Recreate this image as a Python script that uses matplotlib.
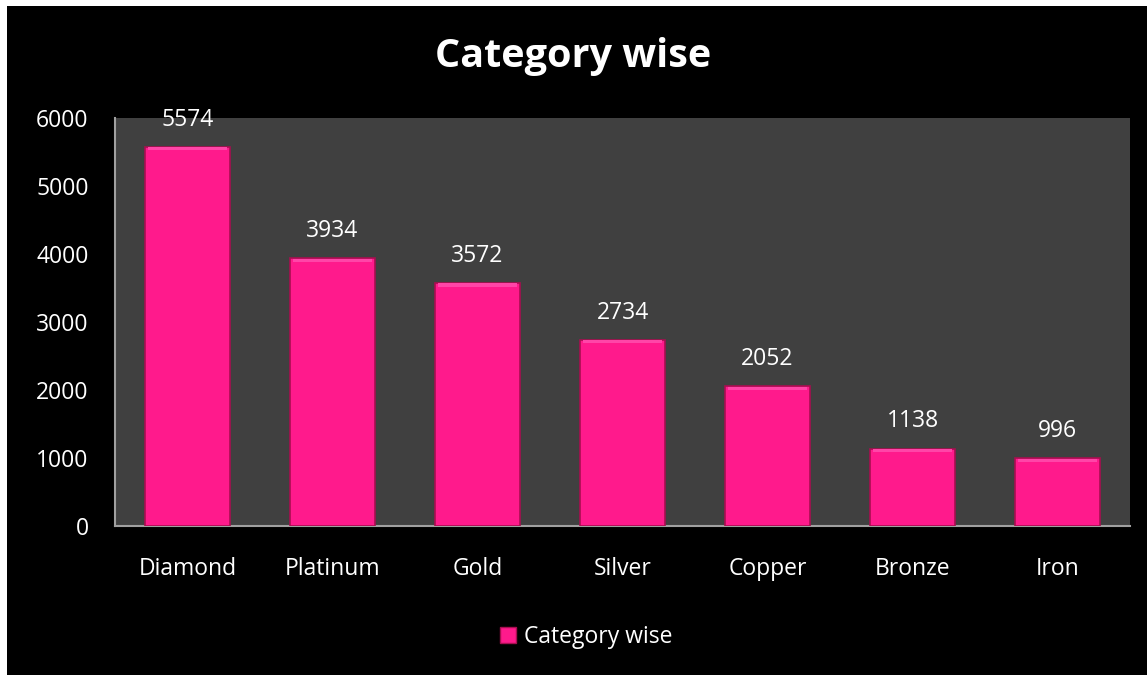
import matplotlib.pyplot as plt
from matplotlib.patches import Rectangle
from matplotlib.lines import Line2D

# Data
categories = ["Diamond", "Platinum", "Gold", "Silver", "Copper", "Bronze", "Iron"]
values = [5574, 3934, 3572, 2734, 2052, 1138, 996]
series_name = "Category wise"

plt.rcParams['font.family'] = ['Open Sans', 'DejaVu Sans']

fig = plt.figure(figsize=(11.47, 6.75), dpi=100)
fig.patch.set_facecolor("white")
# black chart area with thin white margin at top/left
fig.patches.append(Rectangle((7 / 1147, 0), 1, 1 - 6 / 675, transform=fig.transFigure,
                             facecolor="black", edgecolor="none", zorder=-1))

ax = fig.add_axes([115 / 1147, 149 / 675, 1015 / 1147, 408 / 675])
ax.set_zorder(2)
ax.set_facecolor("#404040")

x = range(len(categories))
bars = ax.bar(x, values, width=0.58, color="#FF1A8C", edgecolor="#A80E50",
              linewidth=1.2, zorder=3)
# slight highlight on top of each bar
ax.bar(x, [45] * len(values), bottom=[v - 50 for v in values], width=0.55,
       color="#FF45A8", edgecolor="none", zorder=4)

for xi, v in zip(x, values):
    ax.annotate(str(v), (xi, v), xytext=(0, 11), textcoords="offset points",
                ha="center", va="bottom", color="white", fontsize=16.5)

ax.set_xlim(-0.5, len(categories) - 0.5)
ax.set_ylim(0, 6000)
ax.set_yticks(range(0, 6001, 1000))
ax.set_xticks(list(x))
ax.set_xticklabels(categories)
ax.tick_params(axis="both", length=0, colors="white", labelsize=16.5)
ax.tick_params(axis="y", pad=19)
ax.tick_params(axis="x", pad=22)

for side in ["top", "right"]:
    ax.spines[side].set_visible(False)
for side in ["left", "bottom"]:
    ax.spines[side].set_color("#A0A0A0")
    ax.spines[side].set_linewidth(1.5)

fig.text(0.5, 1 - 57 / 675, series_name, ha="center", va="center",
         color="white", fontsize=28.5, fontweight="bold")

handle = Line2D([], [], marker="s", linestyle="none", markersize=12,
                markerfacecolor="#FF1A8C", markeredgecolor="#A80E50")
fig.legend([handle], [series_name], loc="center", bbox_to_anchor=(0.51, 1 - 637 / 675),
           frameon=False, fontsize=16.5, labelcolor="white", handletextpad=0.2,
           handlelength=1.0)

fig.savefig("out.png", dpi=100, facecolor=fig.get_facecolor())
